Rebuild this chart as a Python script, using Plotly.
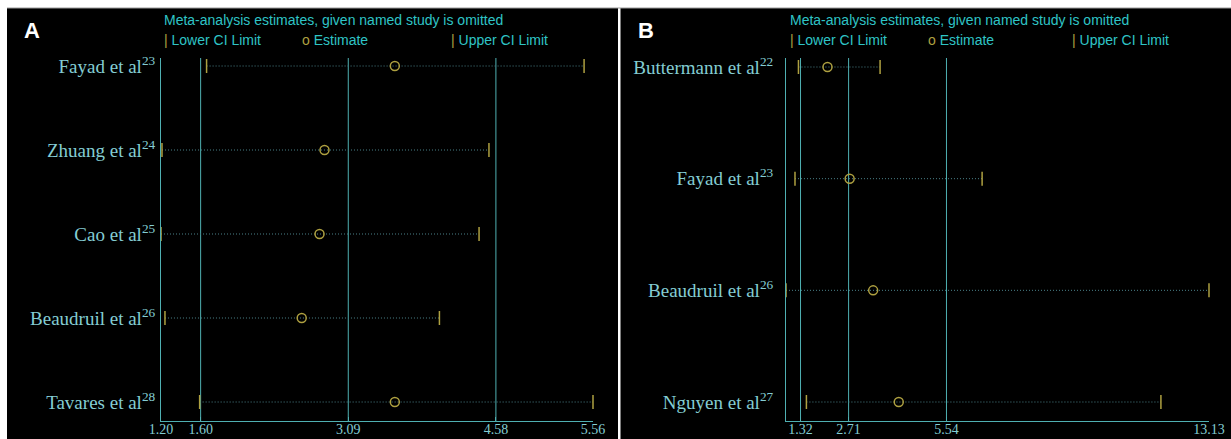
import plotly.graph_objects as go

# ---------------- data ----------------
a_studies = ["Fayad et al<sup>23</sup>", "Zhuang et al<sup>24</sup>", "Cao et al<sup>25</sup>",
             "Beaudruil et al<sup>26</sup>", "Tavares et al<sup>28</sup>"]
a_est = [3.56, 2.85, 2.80, 2.62, 3.56]
a_lower = [1.66, 1.21, 1.20, 1.24, 1.59]
a_upper = [5.47, 4.51, 4.41, 4.01, 5.56]
a_ticks = [1.20, 1.60, 3.09, 4.58, 5.56]
a_ref = [1.60, 3.09, 4.58]
a_range = [1.20, 5.56]

b_studies = ["Buttermann et al<sup>22</sup>", "Fayad et al<sup>23</sup>",
             "Beaudruil et al<sup>26</sup>", "Nguyen et al<sup>27</sup>"]
b_est = [2.10, 2.74, 3.42, 4.16]
b_lower = [1.26, 1.16, 0.90, 1.49]
b_upper = [3.62, 6.57, 13.13, 11.74]
b_ticks = [1.32, 2.71, 5.54, 13.13]
b_ref = [1.32, 2.71, 5.54]
b_range = [0.90, 13.13]

# ---------------- styles ----------------
W, H = 1231, 439
GOLD = "#aea040"
TEAL = "#4fb0b2"
LABEL = "#84cdd3"
CYAN = "#2fc4c6"
DOT = "#4a8088"

def px(x):
    return x / W

def py(y):
    return 1 - y / H

fig = go.Figure()

def add_panel(studies, est, lower, upper, xa, ya):
    n = len(studies)
    rows = list(range(n, 0, -1))
    lx, ly = [], []
    for l, u, r in zip(lower, upper, rows):
        lx += [l, u, None]
        ly += [r, r, None]
    fig.add_trace(go.Scatter(x=lx, y=ly, mode="lines", xaxis=xa, yaxis=ya,
                             line=dict(color=DOT, width=1, dash="1px,2px"),
                             hoverinfo="skip", showlegend=False, cliponaxis=False))
    for vals in (lower, upper):
        fig.add_trace(go.Scatter(x=vals, y=rows, mode="markers", xaxis=xa, yaxis=ya,
                                 marker=dict(symbol="line-ns", size=10,
                                             line=dict(color=GOLD, width=1.5)),
                                 showlegend=False, cliponaxis=False))
    fig.add_trace(go.Scatter(x=est, y=rows, mode="markers", xaxis=xa, yaxis=ya,
                             marker=dict(symbol="circle-open", size=9, color=GOLD,
                                         line=dict(color=GOLD, width=1.5)),
                             showlegend=False, cliponaxis=False))
    return rows

rows_a = add_panel(a_studies, a_est, a_lower, a_upper, "x", "y")
rows_b = add_panel(b_studies, b_est, b_lower, b_upper, "x2", "y2")

shapes = [
    dict(type="rect", xref="paper", yref="paper", x0=px(7), x1=px(618), y0=0, y1=py(8),
         fillcolor="black", line=dict(width=0), layer="below"),
    dict(type="rect", xref="paper", yref="paper", x0=px(620.5), x1=1, y0=0, y1=py(8),
         fillcolor="black", line=dict(width=0), layer="below"),
    dict(type="line", xref="paper", yref="paper", x0=px(7), x1=1, y0=py(8), y1=py(8),
         line=dict(color="#9a9a9a", width=1), layer="below"),
]
for v in a_ref:
    shapes.append(dict(type="line", xref="x", yref="y domain", x0=v, x1=v, y0=0, y1=1,
                       line=dict(color=TEAL, width=1), layer="below"))
for v in b_ref:
    shapes.append(dict(type="line", xref="x2", yref="y2 domain", x0=v, x1=v, y0=0, y1=1,
                       line=dict(color=TEAL, width=1), layer="below"))

ydom = [py(421), py(58)]

def xaxis_cfg(dom, rng, ticks, anchor):
    return dict(domain=dom, range=rng, anchor=anchor, showline=True, linecolor=TEAL,
                linewidth=1, showgrid=False, zeroline=False, tickvals=ticks,
                ticktext=["%.2f" % t for t in ticks], ticks="inside", ticklen=4,
                tickcolor=TEAL, tickfont=dict(family="Liberation Serif", size=14, color=LABEL),
                ticklabelstandoff=-5, automargin=False, fixedrange=True)

def yaxis_cfg(rng, rows, labels, anchor, standoff):
    return dict(domain=ydom, range=rng, anchor=anchor, showline=True, linecolor=TEAL,
                linewidth=1, showgrid=False, zeroline=False, tickvals=rows, ticktext=labels,
                ticks="", tickfont=dict(family="Liberation Serif", size=19, color=LABEL),
                ticklabelstandoff=standoff, automargin=False, fixedrange=True)

annotations = []
def header(x0, xe, xu):
    f = dict(family="Liberation Sans", size=14, color=CYAN)
    annotations.append(dict(text="Meta-analysis estimates, given named study is omitted",
                            x=px(x0), y=py(20), xref="paper", yref="paper",
                            xanchor="left", yanchor="middle", showarrow=False, font=f))
    items = [(x0, "<span style='color:%s'>|</span> Lower CI Limit" % GOLD),
             (xe, "<span style='color:%s'>o</span> Estimate" % GOLD),
             (xu, "<span style='color:%s'>|</span> Upper CI Limit" % GOLD)]
    for x, t in items:
        annotations.append(dict(text=t, x=px(x), y=py(40), xref="paper", yref="paper",
                                xanchor="left", yanchor="middle", showarrow=False, font=f))

header(162, 300, 449)
header(788, 926, 1070)
for lab, x in (("A", 22), ("B", 636)):
    annotations.append(dict(text="<b>%s</b>" % lab, x=px(x), y=py(30), xref="paper",
                            yref="paper", xanchor="left", yanchor="middle", showarrow=False,
                            font=dict(family="Liberation Sans", size=22, color="white")))

fig.update_layout(
    width=W, height=H, margin=dict(l=0, r=0, t=0, b=0),
    paper_bgcolor="white", plot_bgcolor="black",
    xaxis=xaxis_cfg([px(161), px(593)], a_range, a_ticks, "y"),
    yaxis=yaxis_cfg([0.7738, 5.0952], rows_a, a_studies, "x", 1),
    xaxis2=xaxis_cfg([px(786), px(1209)], b_range, b_ticks, "y2"),
    yaxis2=yaxis_cfg([0.8299, 4.0806], rows_b, b_studies, "x2", 8),
    shapes=shapes, annotations=annotations, showlegend=False,
)

fig.write_html("out.html")
